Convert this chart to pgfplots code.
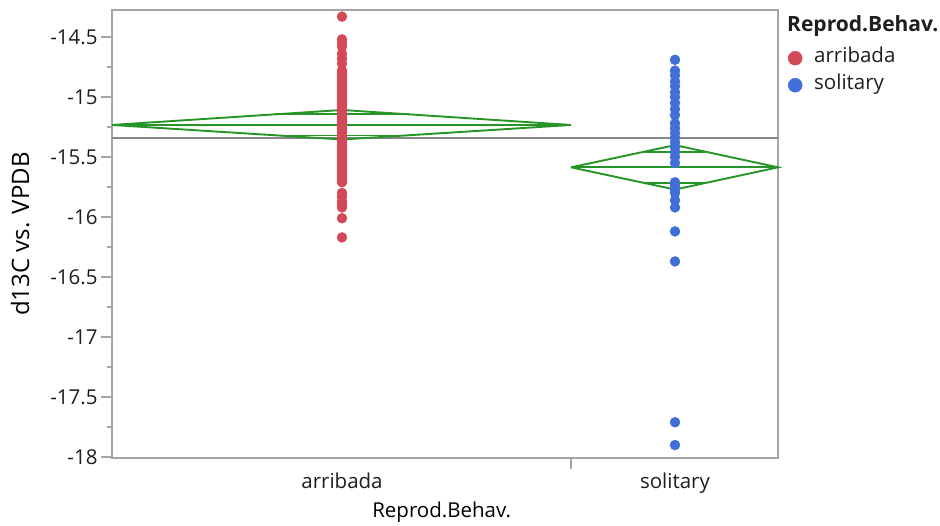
\documentclass[border=0pt]{standalone}
\usepackage{pgfplots}
\pgfplotsset{compat=1.18}
\usepackage{fontspec}
\setmainfont{Open Sans}
\definecolor{arr}{RGB}{212,73,88}
\definecolor{sol}{RGB}{64,111,217}
\definecolor{dia}{RGB}{38,148,38}
\definecolor{axgrey}{RGB}{165,165,165}
\definecolor{meangrey}{RGB}{135,135,135}
\definecolor{txt}{RGB}{30,30,30}
\newcommand{\fs}{\fontsize{20.5}{24}\selectfont}
\begin{document}
\begin{tikzpicture}[x=1pt,y=1pt,font=\fs]
\useasboundingbox (0,0) rectangle (940,525);
\begin{axis}[
  name=ax,
  at={(112pt,67pt)}, anchor=south west,
  scale only axis, width=666pt, height=448pt,
  xmin=0, xmax=666, ymin=-18.008, ymax=-14.275,
  axis line style={axgrey, line width=1.3pt},
  /pgf/number format/assume math mode=true,
  tick label style={font=\fs, text=txt},
  label style={font=\fs, text=txt},
  ytick={-18,-17.5,-17,-16.5,-16,-15.5,-15,-14.5},
  minor ytick={-17.75,-17.25,-16.75,-16.25,-15.75,-15.25,-14.75},
  tick align=outside,
  major tick length=11pt, minor tick length=5pt,
  ytick pos=left,
  y tick style={axgrey, line width=1.3pt},
  xtick={230,563}, xticklabels={arribada,solitary},
  xtick pos=bottom,
  x tick style={draw=none},
  extra x ticks={459}, extra x tick labels={},
  extra x tick style={x tick style={draw=axgrey, line width=1.3pt}},
  ylabel={d13C vs. VPDB},
  xlabel={Reprod.Behav.},
  every axis y label/.style={at={(axis description cs:-0.138,0.5)}, rotate=90, anchor=center, font=\fontsize{24}{28}\selectfont},
  every axis x label/.style={at={(axis description cs:0.495,-0.12)}, anchor=center},
  legend image code/.code={\draw[#1] plot coordinates {(0pt,0pt)};},
  legend style={at={(axis description cs:1,1)}, anchor=north west, xshift=10pt, yshift=-38pt,
    draw=none, fill=none, font=\fs, text=txt, inner sep=0pt,
    nodes={inner sep=0pt, text height=14pt, text depth=6pt},
    row sep=7pt, column sep=12pt},
  legend cell align=left,
  clip=false,
]
% grand mean
\addplot[meangrey, line width=1.7pt, forget plot] coordinates {(0,-15.342) (666,-15.342)};
% arribada diamond
\addplot[dia, line width=1.9pt, forget plot] coordinates {(0,-15.233) (230,-15.108) (459,-15.233) (230,-15.354) (0,-15.233)};
\addplot[dia, line width=1.9pt, forget plot] coordinates {(0,-15.233) (459,-15.233)};
\addplot[dia, line width=1.9pt, forget plot] coordinates {(163,-15.145) (297,-15.145)};
\addplot[dia, line width=1.9pt, forget plot] coordinates {(163,-15.321) (297,-15.321)};
% solitary diamond
\addplot[dia, line width=1.9pt, forget plot] coordinates {(459,-15.586) (563,-15.401) (666,-15.586) (563,-15.771) (459,-15.586)};
\addplot[dia, line width=1.9pt, forget plot] coordinates {(459,-15.586) (666,-15.586)};
\addplot[dia, line width=1.9pt, forget plot] coordinates {(532,-15.455) (593,-15.455)};
\addplot[dia, line width=1.9pt, forget plot] coordinates {(532,-15.717) (593,-15.717)};
% points: arribada
\addplot[only marks, mark=*, mark size=5pt, color=arr, forget plot] coordinates {
(230,-14.33) (230,-14.52) (230,-14.55) (230,-14.58) (230,-14.64) (230,-14.68) (230,-14.72)
(230,-14.78) (230,-14.80) (230,-14.82) (230,-14.84) (230,-14.86) (230,-14.88) (230,-14.90)
(230,-14.92) (230,-14.94) (230,-14.96) (230,-14.98) (230,-15.00) (230,-15.02) (230,-15.04)
(230,-15.06) (230,-15.08) (230,-15.10) (230,-15.12) (230,-15.14) (230,-15.16) (230,-15.18)
(230,-15.20) (230,-15.22) (230,-15.24) (230,-15.26) (230,-15.28) (230,-15.30) (230,-15.32)
(230,-15.34) (230,-15.36) (230,-15.38) (230,-15.40) (230,-15.42) (230,-15.44) (230,-15.46)
(230,-15.48) (230,-15.50) (230,-15.52) (230,-15.54) (230,-15.56) (230,-15.58) (230,-15.60)
(230,-15.62) (230,-15.64) (230,-15.66) (230,-15.68) (230,-15.70) (230,-15.71)
(230,-15.80) (230,-15.83) (230,-15.87) (230,-15.90) (230,-15.92) (230,-16.01) (230,-16.17)
};
% points: solitary
\addplot[only marks, mark=*, mark size=5pt, color=sol, forget plot] coordinates {
(563,-14.69) (563,-14.78) (563,-14.82) (563,-14.87) (563,-14.91) (563,-14.96) (563,-15.00)
(563,-15.05) (563,-15.10) (563,-15.15) (563,-15.22) (563,-15.26) (563,-15.30) (563,-15.34)
(563,-15.38) (563,-15.42) (563,-15.46) (563,-15.50) (563,-15.55) (563,-15.71) (563,-15.74)
(563,-15.77) (563,-15.80) (563,-15.86) (563,-15.92) (563,-16.12) (563,-16.37) (563,-17.71)
(563,-17.90)
};
\addlegendimage{only marks, mark=*, mark size=7pt, color=arr}
\addlegendentry{arribada}
\addlegendimage{only marks, mark=*, mark size=7pt, color=sol}
\addlegendentry{solitary}
\end{axis}
\node[anchor=base west, font=\fontsize{21}{25}\selectfont\bfseries, text=txt, inner sep=0pt] at (787,493) {Reprod.Behav.};
\end{tikzpicture}
\end{document}
